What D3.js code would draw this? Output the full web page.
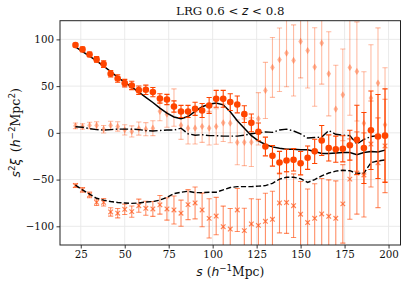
<!DOCTYPE html>
<html><head><meta charset="utf-8">
<script src="https://cdn.jsdelivr.net/npm/d3@7"></script>
<style>
html,body{margin:0;padding:0;background:#fff;}
svg{display:block;}
</style></head>
<body>
<svg id="chart" width="407" height="286"></svg>
<script>
// ---- data ----
const sVals = [22,26,30,34,38,42,46,50,54,58,62,66,70,74,78,82,86,90,94,98,102,106,110,114,118,122,126,130,134,138,142,146,150,154,158,162,166,170,174,178,182,186,190,194,198];

const monoVals = [93.9,89.3,83.9,78.6,73.6,63.2,58.2,53.2,50.7,45.7,46.1,43.6,36.8,35.7,28.2,22.9,22.9,25.7,23.9,29.3,36.4,36.4,32.9,30.4,20,10.7,1.1,-14.6,-24.6,-31.8,-29.6,-28.9,-32.5,-26.6,-19.8,-8.2,-16.2,-17.5,-17.1,-13.2,-7.5,-16.2,2.8,-3.9,-3.0];
const monoErr = [2,2.5,2.5,3,3.5,3.5,4,4,4.5,4.5,5,5,5,5.5,6,6.5,6.5,7,7.5,8.5,9,9,9,9,9,9.5,9.5,10,11,12,12,12,12.5,12.5,13,16,14,14,14,16,37,38,42,45,50];

const quadVals = [7.5,6.8,7.9,7.9,3.9,7.9,6.8,3.2,1.5,4.6,3.9,5.0,23,20,27,8,5,5,6.8,5,6.8,10.7,10.4,-10.2,-10.1,-10,15,45.4,70,78.2,85.4,77.5,97.8,88,70.4,96.1,63.2,25.4,40.7,69.9,65.7,10.4,37.2,53.3,8.6];
const quadErr = [3,3,3.5,4,4,4.5,5,5.5,6,7,7,8,10,14,20,15,17,17,17,18,19,20,21,24,25,26,28,30,32,34,36,38,39,40,42,44,45,47,49,51,53,55,57,59,61];

const crossVals = [-56.4,-61,-66.4,-74.3,-74.3,-84.6,-86,-81.8,-84.3,-77.9,-80.7,-81.4,-77,-81.4,-82.5,-86,-76.8,-75,-82.5,-91.5,-89,-100.4,-102.9,-82.5,-104.6,-97.5,-99,-94.6,-92.5,-75,-74.6,-77.9,-87,-96,-91.4,-86.8,-89.3,-91.4,-76,-49.5,-43,-45,-12,-32,-14];
const crossErr = [2,2.5,3,3.5,4,4.5,5,5.5,6,7,7.5,8,10,12,15,14,16,17,18,21,20,22,22,23,24,27,28,30,30,32,33,34,35,36,37,38,39,40,42,43,44,45,46,48,50];

const modelSolid = [92,87,82,77,71.5,65.5,59.5,54,49,43.5,38,32.5,26.5,21,17,15,17.5,23,28,30.5,32,30,22.5,13,5,-3,-8.5,-12.5,-15,-16.5,-17.5,-17.5,-18,-18,-20,-22,-22,-21.5,-21,-21,-23.5,-21,-20,-20.5,-18.5];
const modelDashDot = [6.5,6,4.5,3.5,3,3.5,4,4,4,3.5,2.5,2,2.5,3,3,5,-1,-2.5,-2,-3,-3,-3.5,-3.5,-3.5,-2.5,-1,0,1,0.5,3,4,2,-1,-5.5,-5,-4.5,2.5,-1.5,-2.5,-3,-12,-7,-4,-3,-2];
const modelDashed = [-56,-61,-65.5,-70,-72,-73.5,-74.5,-75,-75.5,-75,-74,-73.5,-72,-69,-65,-63.5,-62.5,-64,-64,-63.5,-63.5,-61,-58.5,-57.5,-57.5,-57.5,-57,-56.5,-54,-49.5,-47.5,-47.5,-49,-53,-50,-46,-43,-41,-40,-40.5,-43.5,-43,-32,-30,-29];

const xTicks = [25,50,75,100,125,150,175,200];
const yTicks = [-100,-50,0,50,100];
const titleText = ["LRG 0.6 < ", "z", " < 0.8"];

// ---- layout ----
const W = 407, H = 286;
const L = 60, R = 400.5, T = 20.7, B = 245;
const col = "#ff4500";
const svg = d3.select("#chart");

const x = d3.scaleLinear().domain([13.2, 206.8]).range([L, R]);
const y = d3.scaleLinear().domain([-120, 120]).range([B, T]);

svg.append("defs").append("clipPath").attr("id","clip")
  .append("rect").attr("x",L).attr("y",T).attr("width",R-L).attr("height",B-T);

// grid
const grid = svg.append("g");
grid.selectAll(".gx").data(xTicks).join("line")
  .attr("x1",d=>x(d)).attr("x2",d=>x(d)).attr("y1",T).attr("y2",B)
  .attr("stroke","#e8e8e8").attr("stroke-width",0.9);
grid.selectAll(".gy").data(yTicks).join("line")
  .attr("y1",d=>y(d)).attr("y2",d=>y(d)).attr("x1",L).attr("x2",R)
  .attr("stroke","#e8e8e8").attr("stroke-width",0.9);

const plot = svg.append("g").attr("clip-path","url(#clip)");

function errorbars(g, vals, errs, opacity){
  const rows = sVals.map((s,i)=>({s, v:vals[i], e:errs[i]}));
  const eg = g.append("g").attr("stroke",col).attr("stroke-opacity",opacity).attr("stroke-width",1.1).attr("fill","none");
  eg.selectAll("line.v").data(rows).join("line")
    .attr("x1",d=>x(d.s)).attr("x2",d=>x(d.s)).attr("y1",d=>y(d.v-d.e)).attr("y2",d=>y(d.v+d.e));
  eg.selectAll("line.c1").data(rows).join("line")
    .attr("x1",d=>x(d.s)-2.6).attr("x2",d=>x(d.s)+2.6).attr("y1",d=>y(d.v+d.e)).attr("y2",d=>y(d.v+d.e));
  eg.selectAll("line.c2").data(rows).join("line")
    .attr("x1",d=>x(d.s)-2.6).attr("x2",d=>x(d.s)+2.6).attr("y1",d=>y(d.v-d.e)).attr("y2",d=>y(d.v-d.e));
  return rows;
}

// quadrupole (light diamonds)
const qRows = errorbars(plot, quadVals, quadErr, 0.36);
plot.append("g").selectAll("path").data(qRows).join("path")
  .attr("d", d=>{const cx=x(d.s), cy=y(d.v); return `M${cx},${cy-3.6}L${cx+2.3},${cy}L${cx},${cy+3.6}L${cx-2.3},${cy}Z`;})
  .attr("fill",col).attr("fill-opacity",0.4);

// cross series
const cRows = errorbars(plot, crossVals, crossErr, 0.6);
plot.append("g").attr("stroke",col).attr("stroke-opacity",0.65).attr("stroke-width",1.2)
  .selectAll("path").data(cRows).join("path")
  .attr("d", d=>{const cx=x(d.s), cy=y(d.v), r=2.3; return `M${cx-r},${cy-r}L${cx+r},${cy+r}M${cx-r},${cy+r}L${cx+r},${cy-r}`;});

// model lines
const line = vals => d3.line().x((d,i)=>x(sVals[i])).y(d=>y(d))(vals);
plot.append("path").attr("d",line(modelDashDot)).attr("fill","none").attr("stroke","#000")
  .attr("stroke-width",1.4).attr("stroke-dasharray","8.5,2.4,1.5,2.4");
plot.append("path").attr("d",line(modelDashed)).attr("fill","none").attr("stroke","#000")
  .attr("stroke-width",1.4).attr("stroke-dasharray","5.2,2.3");
plot.append("path").attr("d",line(modelSolid)).attr("fill","none").attr("stroke","#000")
  .attr("stroke-width",1.5);

// monopole
const mRows = errorbars(plot, monoVals, monoErr, 1);
plot.append("g").selectAll("circle").data(mRows).join("circle")
  .attr("cx",d=>x(d.s)).attr("cy",d=>y(d.v)).attr("r",3.3).attr("fill",col);

// frame
svg.append("rect").attr("x",L).attr("y",T).attr("width",R-L).attr("height",B-T)
  .attr("fill","none").attr("stroke","#222").attr("stroke-width",1);

// axes
const fontSerif = "'DejaVu Serif', serif";
const xAxis = svg.append("g").attr("transform",`translate(0,${B})`)
  .call(d3.axisBottom(x).tickValues(xTicks).tickSize(3.5).tickPadding(2.5).tickFormat(d3.format("d")));
const yAxis = svg.append("g").attr("transform",`translate(${L},0)`)
  .call(d3.axisLeft(y).tickValues(yTicks).tickSize(3.5).tickPadding(2.5).tickFormat(d=>d<0?"\u2212"+Math.abs(d):String(d)));
[xAxis,yAxis].forEach(a=>{
  a.select(".domain").remove();
  a.selectAll(".tick line").attr("stroke","#222").attr("stroke-width",0.9);
  a.selectAll(".tick text").attr("font-family",fontSerif).attr("font-size",10.3).attr("fill","#111");
});

// title
const title = svg.append("text").attr("x",(L+R)/2).attr("y",15).attr("text-anchor","middle")
  .attr("font-family",fontSerif).attr("font-size",11.8).attr("fill","#111");
title.append("tspan").text(titleText[0]);
title.append("tspan").text(titleText[1]).attr("font-family","'DejaVu Sans', sans-serif").attr("font-style","italic");
title.append("tspan").text(titleText[2]);

// x label
const xl = svg.append("text").attr("x",(L+R)/2).attr("y",276).attr("text-anchor","middle")
  .attr("font-family",fontSerif).attr("font-size",12.3).attr("fill","#111");
xl.append("tspan").text("s").attr("font-family","'DejaVu Sans', sans-serif").attr("font-style","italic");
xl.append("tspan").text(" (");
xl.append("tspan").text("h").attr("font-family","'DejaVu Sans', sans-serif").attr("font-style","italic");
xl.append("tspan").text("\u22121").attr("font-size",8.7).attr("dy",-4.6).attr("font-family","'DejaVu Sans', sans-serif");
xl.append("tspan").text("Mpc)").attr("dy",4.6);

// y label
const yl = svg.append("text").attr("transform",`translate(20,${(T+B)/2}) rotate(-90)`).attr("text-anchor","middle")
  .attr("font-family",fontSerif).attr("font-size",12.5).attr("fill","#111");
yl.append("tspan").text("s").attr("font-family","'DejaVu Sans', sans-serif").attr("font-style","italic");
yl.append("tspan").text("2").attr("font-size",8.8).attr("dy",-4.7).attr("font-family","'DejaVu Sans', sans-serif");
yl.append("tspan").text("\u03BE").attr("dy",4.7).attr("font-family","'DejaVu Sans', sans-serif").attr("font-style","italic");
yl.append("tspan").text("\u2002(");
yl.append("tspan").text("h").attr("font-family","'DejaVu Sans', sans-serif").attr("font-style","italic");
yl.append("tspan").text("\u22122").attr("font-size",8.8).attr("dy",-4.7).attr("font-family","'DejaVu Sans', sans-serif");
yl.append("tspan").text("Mpc").attr("dy",4.7);
yl.append("tspan").text("2").attr("font-size",8.8).attr("dy",-4.7).attr("font-family","'DejaVu Sans', sans-serif");
yl.append("tspan").text(")").attr("dy",4.7);
</script>
</body></html>
